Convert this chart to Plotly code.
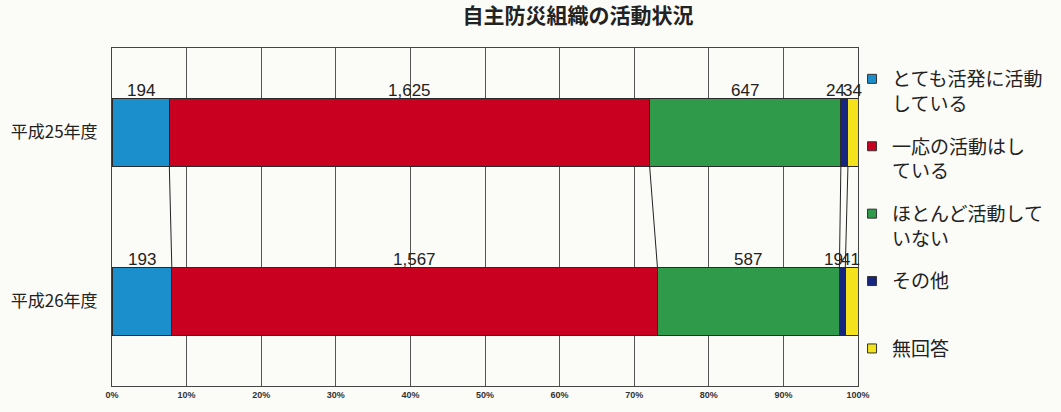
import itertools
import plotly.graph_objects as go

categories = ["平成25年度", "平成26年度"]
series_names = ["とても活発に活動<br>している", "一応の活動はし<br>ている", "ほとんど活動して<br>いない",
                "その他<br>&nbsp;", "無回答<br>&nbsp;"]
values_h25 = [194, 1625, 647, 24, 34]
values_h26 = [193, 1567, 587, 19, 41]
colors = ["#1b8fcb", "#c90020", "#2f9a4a", "#16257f", "#f4e31c"]
tick_pcts = list(range(0, 101, 10))

rows = [values_h25, values_h26]
ypos = [1, 0]  # numeric positions of categories (top, bottom)
bar_w = 0.4

pct = []
for r in rows:
    t = sum(r)
    pct.append([v / t * 100 for v in r])
cum = [list(itertools.accumulate(p)) for p in pct]

fig = go.Figure()
for i, name in enumerate(series_names):
    fig.add_trace(go.Bar(
        y=ypos, x=[pct[0][i], pct[1][i]], orientation="h", name=name,
        width=bar_w, marker=dict(color=colors[i], line=dict(color="#2a2a2a", width=1)),
        showlegend=False, hoverinfo="skip",
    ))

# legend entries (small square swatches)
for i, name in enumerate(series_names):
    fig.add_trace(go.Scatter(
        x=[None], y=[None], mode="markers", name=name, legendgroup=str(i),
        marker=dict(symbol="square", size=9, color=colors[i], line=dict(color="#333", width=1)),
    ))

# series lines between bars
for i in range(4):
    fig.add_trace(go.Scatter(
        x=[cum[0][i], cum[1][i]], y=[ypos[0] - bar_w / 2, ypos[1] + bar_w / 2],
        mode="lines", line=dict(color="#222", width=1), showlegend=False, hoverinfo="skip",
    ))

# data labels
for r, (vals, p, c) in enumerate(zip(rows, pct, cum)):
    ytop = ypos[r] + bar_w / 2
    for i, v in enumerate(vals):
        start = c[i] - p[i]
        xshift = 0
        if i == 3:
            x, anchor, xshift = start + p[i] / 2, "right", 3
        elif i == 4:
            x, anchor, xshift = c[i - 1] - p[i - 1] / 2, "left", -3
        else:
            x, anchor = start + p[i] / 2, "center"
        fig.add_annotation(x=x, y=ytop, text=f"{v:,}", showarrow=False,
                           xanchor=anchor, yanchor="bottom", yshift=-3, xshift=xshift,
                           font=dict(size=17, color="#222", family="Liberation Sans"))

W, H = 1061, 412
L, T, R, B = 112, 48, 203, 26
fig.update_layout(
    barmode="stack", width=W, height=H,
    margin=dict(l=L, r=R, t=T, b=B),
    paper_bgcolor="#fbfbf8", plot_bgcolor="#fbfbf8",
    title=dict(text="<b>自主防災組織の活動状況</b>", x=578 / W, xanchor="center",
               y=1 - 16 / H, yanchor="middle",
               font=dict(size=21, color="#222", family="Noto Sans CJK JP")),
    font=dict(family="Liberation Sans, Noto Sans CJK JP", color="#222"),
    legend=dict(x=0.992, xanchor="left", y=1 - 12 / 338, yanchor="top", valign="top",
                font=dict(size=19, family="Noto Sans CJK JP", color="#222"),
                tracegroupgap=15, itemwidth=30, bgcolor="rgba(0,0,0,0)"),
)
fig.update_xaxes(range=[0, 100], tickvals=tick_pcts,
                 ticktext=[f"<b>{v}%</b>" for v in tick_pcts],
                 showgrid=True, gridcolor="#555", gridwidth=1,
                 showline=True, linecolor="#444", linewidth=1, mirror=True,
                 tickfont=dict(size=9, family="Liberation Sans", color="#333"),
                 zeroline=False, ticks="")
fig.update_yaxes(range=[-0.5, 1.5], tickvals=ypos, ticktext=categories,
                 showgrid=False, showline=True, linecolor="#444", linewidth=1, mirror=True,
                 tickfont=dict(size=17, family="Noto Sans CJK JP", color="#222"),
                 zeroline=False, ticks="", ticklabelstandoff=10)

fig.write_html("out.html", config={"displayModeBar": False},
               post_script="document.body.style.margin='0';")
